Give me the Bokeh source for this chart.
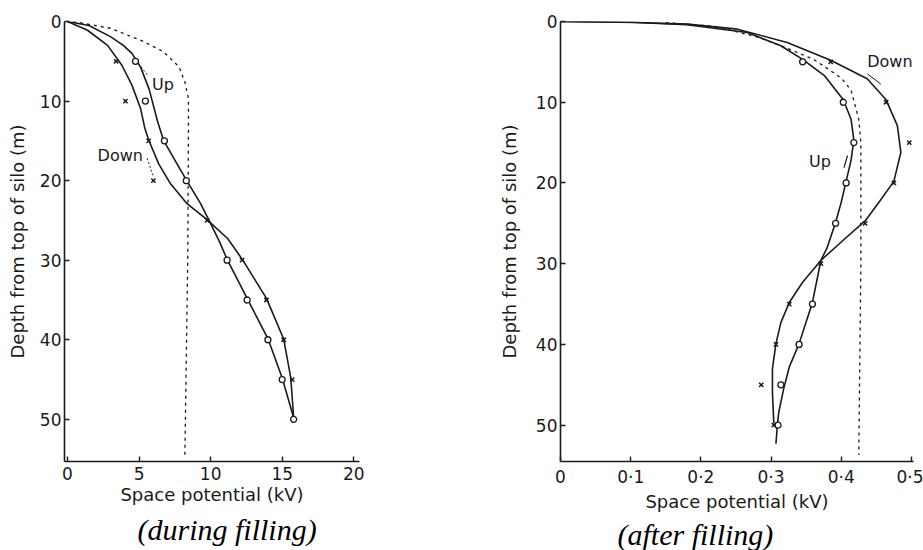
from bokeh.plotting import figure
from bokeh.layouts import row
from bokeh.models import Range1d, Title, Label
from bokeh.embed import file_html
from bokeh.resources import INLINE

# ---------------- Left panel: during filling ----------------
L_up_mk_depth = [5, 10, 15, 20, 30, 35, 40, 45, 50]
L_up_mk = [4.75, 5.44, 6.77, 8.3, 11.15, 12.55, 14.0, 15.0, 15.8]
L_down_mk_depth = [5, 10, 15, 20, 25, 30, 35, 40, 45]
L_down_mk = [3.4, 4.05, 5.67, 6.0, 9.75, 12.2, 13.9, 15.1, 15.7]

L_up_curve_d = [0, 0.5, 1.9, 3.0, 4.0, 5.7, 8.5, 12.6, 14.9, 17.9, 19.9, 22.9, 25.4, 27.6, 29.9, 34.8, 39.85, 44.8, 49.8]
L_up_curve_v = [0, 1.5, 3.0, 3.9, 4.5, 5.1, 5.7, 6.3, 6.7, 7.65, 8.3, 9.3, 10.0, 10.6, 11.15, 12.55, 14.0, 15.0, 15.8]
L_down_curve_d = [0, 1.1, 3.0, 5.5, 8.0, 10.9, 13.4, 14.9, 17.9, 20.4, 22.9, 24.9, 27.3, 30.0, 34.8, 39.9, 44.8, 49.8]
L_down_curve_v = [0, 1.4, 2.8, 3.8, 4.5, 5.1, 5.4, 5.67, 6.37, 7.2, 8.35, 9.75, 11.2, 12.25, 13.9, 15.1, 15.6, 15.8]
L_dash_d = [0, 0.85, 2.5, 3.8, 5.7, 7.6, 9.7, 13.5, 30, 54.5]
L_dash_v = [0.4, 3.0, 5.3, 6.7, 7.8, 8.2, 8.45, 8.45, 8.4, 8.2]

L_x_ticks = [0, 5, 10, 15, 20]
L_y_ticks = [0, 10, 20, 30, 40, 50]

# ---------------- Right panel: after filling ----------------
R_up_mk_depth = [5, 10, 15, 20, 25, 35, 40, 45, 50]
R_up_mk = [0.345, 0.403, 0.418, 0.407, 0.392, 0.359, 0.340, 0.314, 0.310]
R_down_mk_depth = [5, 10, 15, 20, 25, 30, 35, 40, 45, 50]
R_down_mk = [0.385, 0.464, 0.497, 0.475, 0.434, 0.371, 0.326, 0.307, 0.286, 0.304]

R_up_curve_d = [0, 0.1, 0.4, 1.36, 3.0, 4.7, 6.7, 9.7, 12.1, 14.7, 17.2, 19.8, 22.4, 24.9, 28.0, 29.6, 34.8, 39.9, 42.8, 45.5, 48.4, 50.0, 52.3]
R_up_curve_v = [0, 0.10, 0.18, 0.266, 0.314, 0.345, 0.376, 0.403, 0.414, 0.418, 0.414, 0.407, 0.400, 0.392, 0.380, 0.371, 0.359, 0.340, 0.326, 0.318, 0.311, 0.309, 0.307]
R_down_curve_d = [0, 0.12, 0.33, 0.95, 2.6, 4.8, 7.1, 9.7, 12.9, 16.2, 19.8, 22.6, 24.7, 27.0, 29.6, 32.3, 34.8, 37.3, 39.9, 43.0, 46.0, 49.8]
R_down_curve_v = [0, 0.109, 0.181, 0.252, 0.323, 0.385, 0.437, 0.464, 0.480, 0.485, 0.475, 0.452, 0.434, 0.404, 0.371, 0.345, 0.326, 0.314, 0.307, 0.302, 0.302, 0.304]
R_dash_d = [0.15, 0.6, 1.9, 3.2, 4.7, 7.0, 8.5, 12.1, 15, 30, 53.7]
R_dash_v = [0.15, 0.22, 0.28, 0.32, 0.361, 0.40, 0.414, 0.425, 0.428, 0.428, 0.425]

R_x_ticks = [0, 0.1, 0.2, 0.3, 0.4, 0.5]
R_x_tick_labels = ["0", "0·1", "0·2", "0·3", "0·4", "0·5"]
R_y_ticks = [0, 10, 20, 30, 40, 50]

# annotation pointers (value, depth)
L_up_ptr_v, L_up_ptr_d = [4.95, 5.58], [5.3, 6.7]
L_down_ptr_v, L_down_ptr_d = [5.56, 6.0], [17.2, 19.5]
R_down_ptr_v, R_down_ptr_d = [0.4375, 0.4565], [6.5, 7.75]
R_up_ptr_v, R_up_ptr_d = [0.409, 0.404], [16.6, 18.1]

SANS = "DejaVu Sans"
INK = "#1a1a1a"


def style(p, xticks, yticks, ylabel_standoff, overrides=None):
    p.xgrid.visible = False
    p.ygrid.visible = False
    p.outline_line_color = None
    p.background_fill_color = "white"
    p.border_fill_color = "white"
    for ax in (p.xaxis[0], p.yaxis[0]):
        ax.axis_line_color = INK
        ax.axis_line_width = 1.6
        ax.major_tick_line_color = INK
        ax.major_tick_line_width = 1.4
        ax.major_tick_in = 5
        ax.major_tick_out = 0
        ax.minor_tick_line_color = None
        ax.major_label_text_font = SANS
        ax.major_label_text_font_size = "17px"
        ax.major_label_text_color = INK
        ax.axis_label_text_font = SANS
        ax.axis_label_text_font_size = "18px"
        ax.axis_label_text_font_style = "normal"
        ax.axis_label_text_color = INK
    p.xaxis.ticker = xticks
    p.yaxis.ticker = yticks
    if overrides:
        p.xaxis.major_label_overrides = overrides
    p.xaxis.axis_label = "Space potential (kV)"
    p.yaxis.axis_label = "Depth from top of silo (m)"
    p.xaxis.major_label_standoff = 5
    p.xaxis.axis_label_standoff = 1
    p.yaxis.major_label_standoff = 3
    p.yaxis.axis_label_standoff = ylabel_standoff


def caption(p, text, offset, standoff):
    t = Title(text=text, align="left", offset=offset,
              text_font="Liberation Serif", text_font_style="italic",
              text_font_size="30px", text_color="black", standoff=standoff)
    p.add_layout(t, "below")


# ---------- left figure ----------
p1 = figure(frame_width=295, frame_height=440,
            x_range=Range1d(-0.21, 20.4), y_range=Range1d(55.3, 0),
            min_border_left=64, min_border_top=21, min_border_right=81, min_border_bottom=86,
            output_backend="svg", toolbar_location=None)
style(p1, L_x_ticks, L_y_ticks, 9)
p1.line(L_dash_v, L_dash_d, line_color=INK, line_width=1.3, line_dash="3 4")
p1.line(L_up_curve_v, L_up_curve_d, line_color=INK, line_width=1.6)
p1.line(L_down_curve_v, L_down_curve_d, line_color=INK, line_width=1.6)
p1.scatter(L_up_mk, L_up_mk_depth, marker="circle", size=6, fill_color="white", line_color=INK, line_width=1.3)
p1.scatter(L_down_mk, L_down_mk_depth, marker="x", size=6, line_color=INK, line_width=1.5)
p1.line(L_up_ptr_v, L_up_ptr_d, line_color=INK, line_width=1.0, line_dash="2 2")
p1.line(L_down_ptr_v, L_down_ptr_d, line_color=INK, line_width=1.0, line_dash="2 2")
p1.add_layout(Label(x=5.9, y=7.9, text="Up", text_font=SANS, text_font_size="16px",
                    text_color=INK, text_baseline="middle"))
p1.add_layout(Label(x=2.1, y=16.8, text="Down", text_font=SANS, text_font_size="16px",
                    text_color=INK, text_baseline="middle"))
caption(p1, "(during filling)", 73, 7)

# ---------- right figure ----------
p2 = figure(frame_width=353, frame_height=440,
            x_range=Range1d(0, 0.503), y_range=Range1d(54.5, 0),
            min_border_left=120, min_border_top=21, min_border_right=10, min_border_bottom=86,
            output_backend="svg", toolbar_location=None)
style(p2, R_x_ticks, R_y_ticks, 13, {v: s for v, s in zip(R_x_ticks, R_x_tick_labels)})
p2.line(R_dash_v, R_dash_d, line_color=INK, line_width=1.3, line_dash="3 4")
p2.line(R_up_curve_v, R_up_curve_d, line_color=INK, line_width=1.6)
p2.line(R_down_curve_v, R_down_curve_d, line_color=INK, line_width=1.6)
p2.scatter(R_up_mk, R_up_mk_depth, marker="circle", size=6, fill_color="white", line_color=INK, line_width=1.3)
p2.scatter(R_down_mk, R_down_mk_depth, marker="x", size=6, line_color=INK, line_width=1.5)
p2.line(R_down_ptr_v, R_down_ptr_d, line_color=INK, line_width=1.0)
p2.line(R_up_ptr_v, R_up_ptr_d, line_color=INK, line_width=1.2)
p2.add_layout(Label(x=0.437, y=4.9, text="Down", text_font=SANS, text_font_size="16px",
                    text_color=INK, text_baseline="middle"))
p2.add_layout(Label(x=0.354, y=17.3, text="Up", text_font=SANS, text_font_size="16px",
                    text_color=INK, text_baseline="middle"))
caption(p2, "(after filling)", 57, 2)

layout = row(p1, p2)
open("out.html", "w").write(file_html(layout, INLINE))
